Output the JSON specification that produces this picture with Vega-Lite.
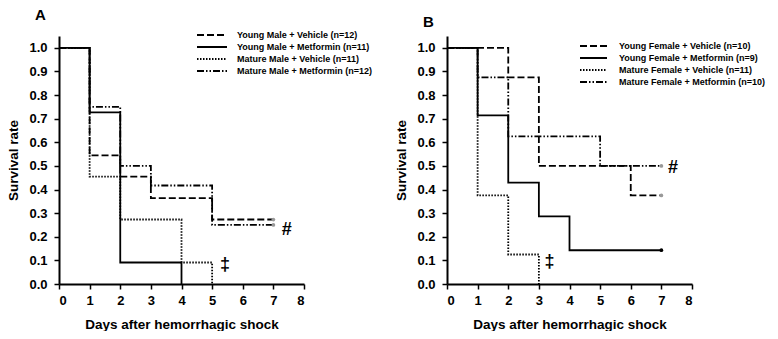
{
  "$schema": "https://vega.github.io/schema/vega-lite/v6.json",
  "background": "white",
  "padding": {"left": 6, "top": 8, "right": 0, "bottom": 0},
  "spacing": 143,
  "bounds": "flush",
  "resolve": {"scale": {"strokeDash": "independent"}, "legend": {"strokeDash": "independent"}},
  "config": {
    "view": {"stroke": null},
    "font": "Liberation Sans",
    "axis": {
      "grid": false,
      "labelOverlap": false,
      "domainColor": "black",
      "domainWidth": 2,
      "tickColor": "black",
      "tickWidth": 1.5,
      "tickSize": 5,
      "labelFont": "Liberation Sans",
      "labelFontWeight": "bold",
      "labelFontSize": 13,
      "labelColor": "black",
      "titleFont": "Liberation Sans",
      "titleFontWeight": "bold",
      "titleFontSize": 13.5,
      "titleColor": "black"
    },
    "axisX": {"labelPadding": 5, "titlePadding": 10},
    "axisY": {"labelPadding": 7, "titlePadding": 8},
    "title": {
      "anchor": "start",
      "frame": "group",
      "font": "Liberation Sans",
      "fontWeight": "bold",
      "fontSize": 15,
      "color": "black",
      "dx": -24,
      "offset": 6
    },
    "legend": {
      "padding": 0,
      "symbolType": "stroke",
      "symbolStrokeColor": "black",
      "symbolStrokeWidth": 1.8,
      "clipHeight": 12,
      "rowPadding": 0,
      "labelFont": "Liberation Sans",
      "labelFontWeight": "bold",
      "labelFontSize": 9,
      "labelColor": "black",
      "labelLimit": 400
    }
  },
  "datasets": {
    "linesA": [
      {"group": "Young Male + Vehicle (n=12)", "day": 0, "survival": 1.0},
      {"group": "Young Male + Vehicle (n=12)", "day": 1, "survival": 0.545},
      {"group": "Young Male + Vehicle (n=12)", "day": 2, "survival": 0.455},
      {"group": "Young Male + Vehicle (n=12)", "day": 3, "survival": 0.364},
      {"group": "Young Male + Vehicle (n=12)", "day": 5, "survival": 0.273},
      {"group": "Young Male + Vehicle (n=12)", "day": 7, "survival": 0.273},
      {"group": "Young Male + Metformin (n=11)", "day": 0, "survival": 1.0},
      {"group": "Young Male + Metformin (n=11)", "day": 1, "survival": 0.727},
      {"group": "Young Male + Metformin (n=11)", "day": 2, "survival": 0.091},
      {"group": "Young Male + Metformin (n=11)", "day": 4, "survival": 0.0},
      {"group": "Mature Male + Vehicle (n=11)", "day": 0, "survival": 1.0},
      {"group": "Mature Male + Vehicle (n=11)", "day": 1, "survival": 0.455},
      {"group": "Mature Male + Vehicle (n=11)", "day": 2, "survival": 0.273},
      {"group": "Mature Male + Vehicle (n=11)", "day": 4, "survival": 0.091},
      {"group": "Mature Male + Vehicle (n=11)", "day": 5, "survival": 0.0},
      {"group": "Mature Male + Metformin (n=12)", "day": 0, "survival": 1.0},
      {"group": "Mature Male + Metformin (n=12)", "day": 1, "survival": 0.75},
      {"group": "Mature Male + Metformin (n=12)", "day": 2, "survival": 0.5},
      {"group": "Mature Male + Metformin (n=12)", "day": 3, "survival": 0.417},
      {"group": "Mature Male + Metformin (n=12)", "day": 5, "survival": 0.25},
      {"group": "Mature Male + Metformin (n=12)", "day": 7, "survival": 0.25}
    ],
    "linesB": [
      {"group": "Young Female + Vehicle (n=10)", "day": 0, "survival": 1.0},
      {"group": "Young Female + Vehicle (n=10)", "day": 2, "survival": 0.875},
      {"group": "Young Female + Vehicle (n=10)", "day": 3, "survival": 0.5},
      {"group": "Young Female + Vehicle (n=10)", "day": 6, "survival": 0.375},
      {"group": "Young Female + Vehicle (n=10)", "day": 7, "survival": 0.375},
      {"group": "Young Female + Metformin (n=9)", "day": 0, "survival": 1.0},
      {"group": "Young Female + Metformin (n=9)", "day": 1, "survival": 0.714},
      {"group": "Young Female + Metformin (n=9)", "day": 2, "survival": 0.429},
      {"group": "Young Female + Metformin (n=9)", "day": 3, "survival": 0.286},
      {"group": "Young Female + Metformin (n=9)", "day": 4, "survival": 0.143},
      {"group": "Young Female + Metformin (n=9)", "day": 7, "survival": 0.143},
      {"group": "Mature Female + Vehicle (n=11)", "day": 0, "survival": 1.0},
      {"group": "Mature Female + Vehicle (n=11)", "day": 1, "survival": 0.375},
      {"group": "Mature Female + Vehicle (n=11)", "day": 2, "survival": 0.125},
      {"group": "Mature Female + Vehicle (n=11)", "day": 3, "survival": 0.0},
      {"group": "Mature Female + Metformin (n=10)", "day": 0, "survival": 1.0},
      {"group": "Mature Female + Metformin (n=10)", "day": 1, "survival": 0.875},
      {"group": "Mature Female + Metformin (n=10)", "day": 2, "survival": 0.625},
      {"group": "Mature Female + Metformin (n=10)", "day": 5, "survival": 0.5},
      {"group": "Mature Female + Metformin (n=10)", "day": 7, "survival": 0.5}
    ],
    "censorA": [
      {"group": "Young Male + Vehicle (n=12)", "day": 7, "survival": 0.273},
      {"group": "Mature Male + Metformin (n=12)", "day": 7, "survival": 0.25}
    ],
    "censorB": [
      {"group": "Young Female + Vehicle (n=10)", "day": 7, "survival": 0.375},
      {"group": "Young Female + Metformin (n=9)", "day": 7, "survival": 0.143},
      {"group": "Mature Female + Metformin (n=10)", "day": 7, "survival": 0.5}
    ],
    "annotA": [
      {"label": "#", "day": 7.44, "survival": 0.228},
      {"label": "‡", "day": 5.42, "survival": 0.08}
    ],
    "annotB": [
      {"label": "#", "day": 7.38, "survival": 0.49},
      {"label": "‡", "day": 3.35, "survival": 0.093}
    ]
  },
  "hconcat": [
    {
      "title": {"text": "A"},
      "width": 245,
      "height": 248,
      "encoding": {
        "x": {"field": "day", "type": "quantitative", "scale": {"domain": [0, 8], "nice": false}, "axis": {"values": [0, 1, 2, 3, 4, 5, 6, 7, 8], "title": "Days after hemorrhagic shock"}},
        "y": {"field": "survival", "type": "quantitative", "scale": {"domain": [0, 1.05], "nice": false}, "axis": {"values": [0, 0.1, 0.2, 0.3, 0.4, 0.5, 0.6, 0.7, 0.8, 0.9, 1.0], "format": ".1f", "title": "Survival rate"}}
      },
      "layer": [
        {
          "data": {"name": "linesA"},
          "mark": {"type": "line", "interpolate": "step-after", "color": "black", "strokeWidth": 1.8},
          "encoding": {
            "strokeDash": {
              "field": "group", "type": "nominal",
              "scale": {"domain": ["Young Male + Vehicle (n=12)", "Young Male + Metformin (n=11)", "Mature Male + Vehicle (n=11)", "Mature Male + Metformin (n=12)"], "range": [[7, 3], [1, 0], [1.5, 1.5], [7, 2, 1.5, 2, 1.5, 2]]},
              "legend": {"title": null, "orient": "none", "legendX": 137, "legendY": -7, "symbolSize": 900, "labelOffset": 9}
            }
          }
        },
        {
          "data": {"name": "censorA"},
          "mark": {"type": "point", "filled": true, "size": 14, "color": "#999999", "opacity": 1},
          "encoding": {}
        },
        {
          "data": {"name": "annotA"},
          "mark": {"type": "text", "font": "Liberation Sans", "fontWeight": "bold", "fontSize": 18, "fill": "black", "align": "center", "baseline": "middle"},
          "encoding": {
            "text": {"field": "label"}
          }
        }
      ]
    },
    {
      "title": {"text": "B"},
      "width": 245,
      "height": 248,
      "encoding": {
        "x": {"field": "day", "type": "quantitative", "scale": {"domain": [0, 8], "nice": false}, "axis": {"values": [0, 1, 2, 3, 4, 5, 6, 7, 8], "title": "Days after hemorrhagic shock"}},
        "y": {"field": "survival", "type": "quantitative", "scale": {"domain": [0, 1.05], "nice": false}, "axis": {"values": [0, 0.1, 0.2, 0.3, 0.4, 0.5, 0.6, 0.7, 0.8, 0.9, 1.0], "format": ".1f", "title": "Survival rate"}}
      },
      "layer": [
        {
          "data": {"name": "linesB"},
          "mark": {"type": "line", "interpolate": "step-after", "color": "black", "strokeWidth": 1.8},
          "encoding": {
            "strokeDash": {
              "field": "group", "type": "nominal",
              "scale": {"domain": ["Young Female + Vehicle (n=10)", "Young Female + Metformin (n=9)", "Mature Female + Vehicle (n=11)", "Mature Female + Metformin (n=10)"], "range": [[7, 3], [1, 0], [1.5, 1.5], [7, 2, 1.5, 2, 1.5, 2]]},
              "legend": {"title": null, "orient": "none", "legendX": 132, "legendY": 4, "symbolSize": 729, "labelOffset": 11}
            }
          }
        },
        {
          "data": {"name": "censorB"},
          "mark": {"type": "point", "filled": true, "size": 14, "opacity": 1},
          "encoding": {
            "color": {"condition": {"test": "datum.group === 'Young Female + Metformin (n=9)'", "value": "black"}, "value": "#999999"}
          }
        },
        {
          "data": {"name": "annotB"},
          "mark": {"type": "text", "font": "Liberation Sans", "fontWeight": "bold", "fontSize": 18, "fill": "black", "align": "center", "baseline": "middle"},
          "encoding": {
            "text": {"field": "label"}
          }
        }
      ]
    }
  ]
}
